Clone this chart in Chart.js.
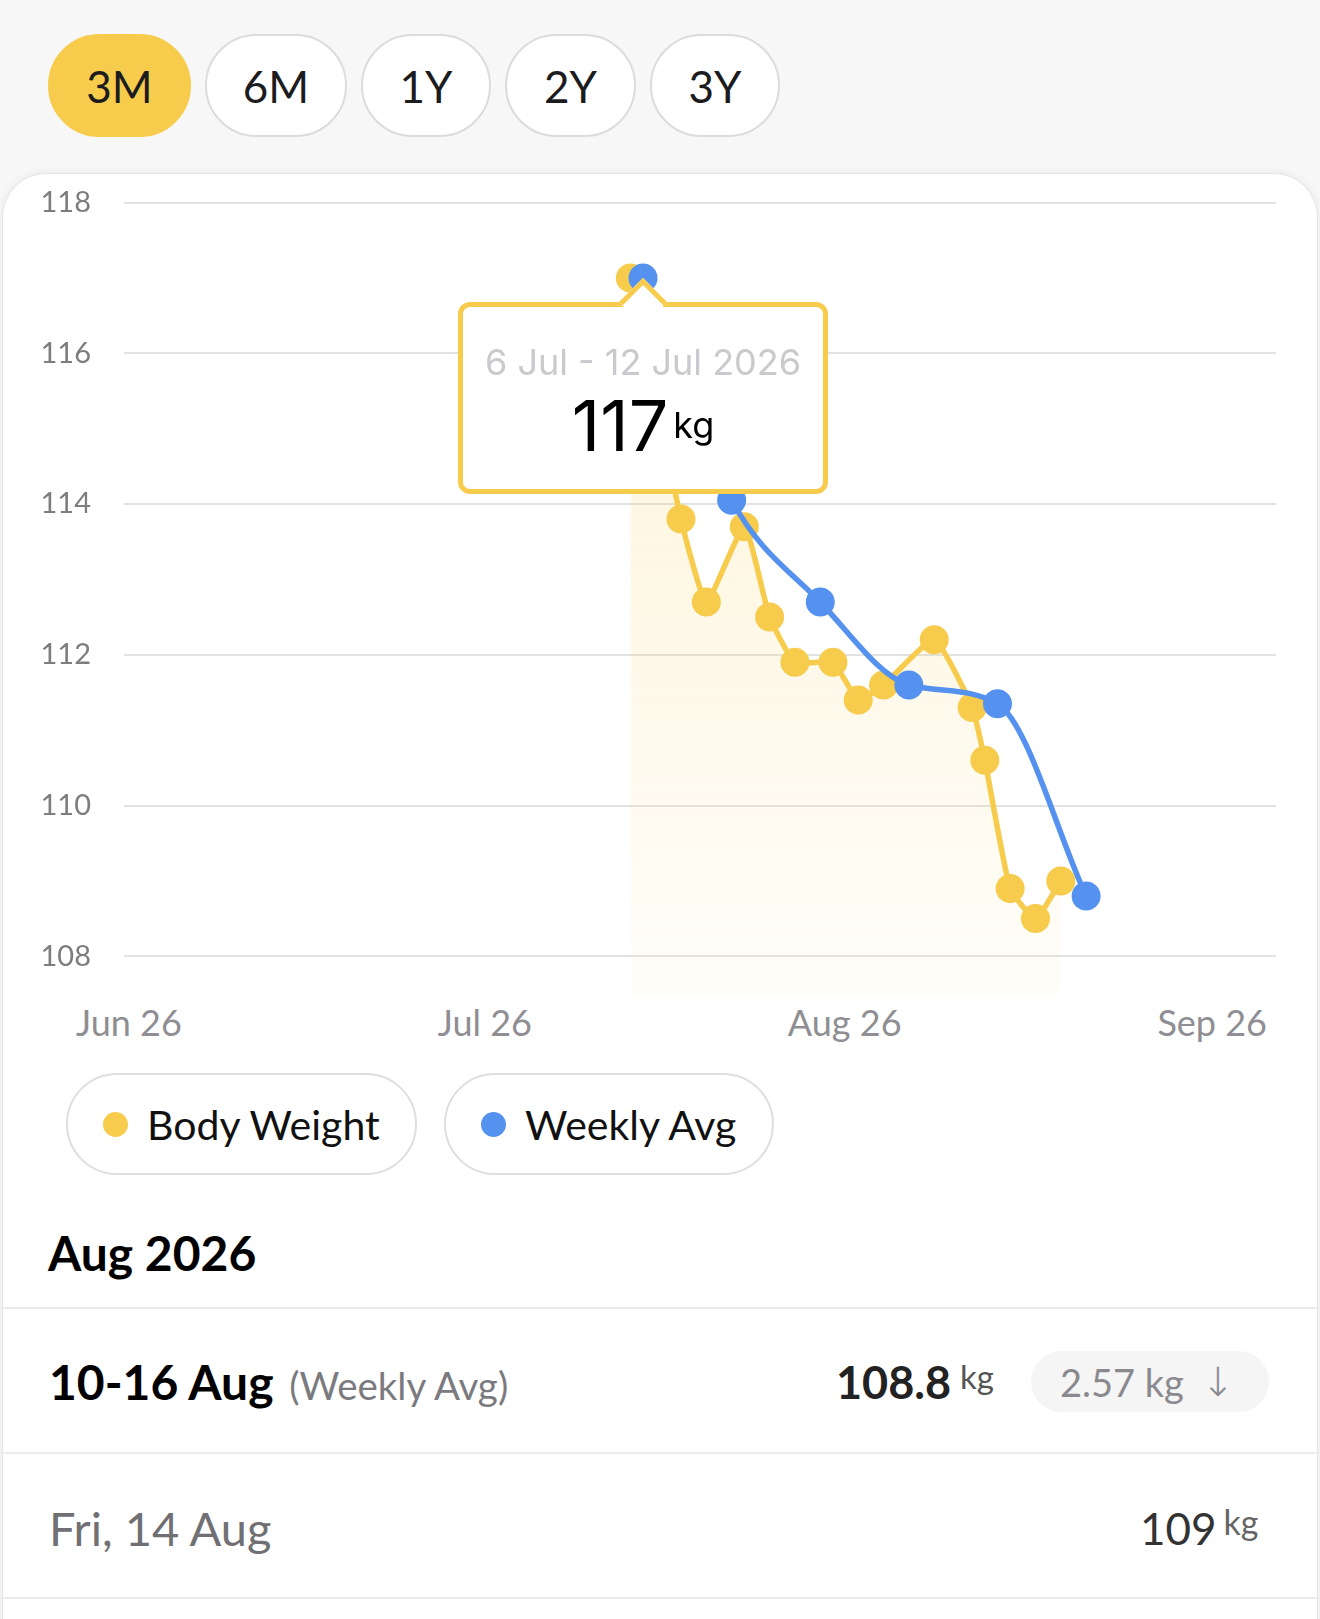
<!DOCTYPE html>
<html>
<head>
<meta charset="utf-8">
<title>Body Weight</title>
<script src="https://cdn.jsdelivr.net/npm/chart.js@4.4.1/dist/chart.umd.min.js"></script>
<style>
  * { box-sizing: border-box; }
  html, body { margin: 0; padding: 0; }
  body {
    width: 1320px; height: 1619px; overflow: hidden; position: relative;
    background: #f7f7f7; color: #1c1c1e;
    font-family: Lato, "Noto Sans", sans-serif;
  }
  .abs { position: absolute; white-space: nowrap; line-height: 1.2; }

  .ranges { position: absolute; left: 48px; top: 34px; display: flex; gap: 14px; }
  .ranges div {
    height: 103px; border-radius: 52px; border: 2.5px solid #dcdcdc; background: #fff;
    display: flex; align-items: center; justify-content: center; font-size: 44px;
  }
  .ranges div:nth-child(1) { width: 143px; background: #f7cc4c; border-color: #f7cc4c; }
  .ranges div:nth-child(2) { width: 142px; }
  .ranges div:nth-child(3) { width: 130px; }
  .ranges div:nth-child(4) { width: 131px; }
  .ranges div:nth-child(5) { width: 130px; }

  .card {
    position: absolute; left: 2px; top: 173px; width: 1316px; height: 1500px;
    background: #fff; border-radius: 44px 44px 0 0; border: 1.5px solid #e4e4e4;
    box-shadow: 0 -1px 8px rgba(0,0,0,0.05);
  }
  #chartWrap { position: absolute; left: 0; top: 175px; width: 1320px; height: 825px; }

  .xlabels {
    position: absolute; left: 76px; width: 1191px; top: 1000px; height: 44px;
    display: flex; justify-content: space-between; align-items: center;
    font-size: 36px; color: #8e8e93;
  }

  .legend { position: absolute; left: 66px; top: 1073px; display: flex; gap: 27px; }
  .legend .pill {
    height: 102px; border: 2.5px solid #dedede; border-radius: 51px; background: #fff;
    display: flex; align-items: center; padding-left: 35px; font-size: 41px; color: #111;
  }
  .legend .pill:nth-child(1) { width: 351px; }
  .legend .pill:nth-child(2) { width: 330px; }
  .legend .dot { width: 25px; height: 25px; border-radius: 50%; margin-right: 19px; flex: none; }

  .sep { position: absolute; left: 0; width: 1320px; height: 2px; background: #ececec; }
  .badge {
    position: absolute; left: 1031px; top: 1351px; width: 238px; height: 61px;
    border-radius: 31px; background: #f5f5f6; color: #8a8a8e; font-size: 38px;
    display: flex; align-items: center; padding-left: 29px; white-space: nowrap;
  }
  .badge .arrow { font-family: "DejaVu Sans", sans-serif; font-size: 40px; margin-left: 17px; font-weight: 200; }

  #tip { position: absolute; left: 0; top: 0; width: 0; height: 0; pointer-events: none; opacity: 0; }
  #tip .box {
    position: absolute; left: -185px; top: 24px; width: 370px; height: 192px;
    border: 5px solid #f7cb4c; border-radius: 12px; background: #fff;
    font-family: Inter, "Noto Sans", sans-serif; text-align: center;
  }
  #tip .caret {
    position: absolute; left: -17px; top: 7px; width: 34px; height: 34px;
    background: #fff; border-top: 5px solid #f7cb4c; border-left: 5px solid #f7cb4c;
    transform: rotate(45deg); z-index: 2;
  }
  #tip .range { position: absolute; left: 0; right: 0; top: 33px; line-height: 44px; font-size: 36px; color: #c9c9ce; }
  #tip .val { position: absolute; left: 0; right: 0; top: 84px; line-height: 1; font-size: 70px; color: #000; }
  #tip .val span { font-size: 36px; vertical-align: 13px; margin-left: 5px; }
</style>
</head>
<body>
<div class="ranges"><div>3M</div><div>6M</div><div>1Y</div><div>2Y</div><div>3Y</div></div>
<div class="card"></div>

<div id="chartWrap">
  <canvas id="weightChart"></canvas>
  <div id="tip"><div class="caret"></div><div class="box"><div class="range"></div><div class="val"></div></div></div>
</div>
<div class="xlabels" id="xlabels"></div>
<div class="legend" id="legend"></div>

<div class="abs" style="left:48px; top:1224px; font-size:48px; font-weight:700; color:#000;">Aug 2026</div>
<div class="sep" style="top:1307px;"></div>

<div class="abs" style="left:49px; top:1353px; font-size:48px; font-weight:700; color:#000;">10-16 Aug <span style="font-size:38.5px; font-weight:400; color:#7b7b7f; margin-left:4px;">(Weekly Avg)</span></div>
<div class="abs" style="left:836px; top:1355px; font-size:45px; font-weight:700; color:#222;">108.8<span style="font-size:33px; font-weight:400; color:#555; vertical-align:10px; margin-left:9px;">kg</span></div>
<div class="badge">2.57 kg<span class="arrow">↓</span></div>
<div class="sep" style="top:1452px;"></div>

<div class="abs" style="left:49px; top:1500px; font-size:47px; color:#707074;">Fri, 14 Aug</div>
<div class="abs" style="left:1140px; top:1502px; font-size:44px; color:#333;">109<span style="font-size:34px; color:#666; vertical-align:10px; margin-left:7px;">kg</span></div>
<div class="sep" style="top:1597px;"></div>

<script>
// axis range (3M view) and labels
const axisStart = '2026-06-01';
const axisEnd = '2026-08-31';
const monthLabels = ['Jun 26', 'Jul 26', 'Aug 26', 'Sep 26'];
const yTicks = [108, 110, 112, 114, 116, 118];

// daily weigh-ins
const bodyDates = ['2026-07-11', '2026-07-15', '2026-07-17', '2026-07-20', '2026-07-22',
  '2026-07-24', '2026-07-27', '2026-07-29', '2026-07-31', '2026-08-04', '2026-08-07',
  '2026-08-08', '2026-08-10', '2026-08-12', '2026-08-14'];
const bodyWeight = [117.0, 113.8, 112.7, 113.7, 112.5, 111.9, 111.9, 111.4, 111.6,
  112.2, 111.3, 110.6, 108.9, 108.5, 109.0];

// weekly averages, plotted at week end (Sunday)
const weekEnds = ['2026-07-12', '2026-07-19', '2026-07-26', '2026-08-02', '2026-08-09', '2026-08-16'];
const weeklyAvg = [117.0, 114.05, 112.7, 111.6, 111.35, 108.8];

const yellow = '#f7cb4c';
const blue = '#5591ee';
const MONTHS = ['Jan', 'Feb', 'Mar', 'Apr', 'May', 'Jun', 'Jul', 'Aug', 'Sep', 'Oct', 'Nov', 'Dec'];

function toUTC(s) {
  const p = s.split('-').map(Number);
  return Date.UTC(p[0], p[1] - 1, p[2]);
}
function dayNum(s) {
  return (toUTC(s) - toUTC(axisStart)) / 864e5;
}
function fmtDay(t) {
  const d = new Date(t);
  return d.getUTCDate() + ' ' + MONTHS[d.getUTCMonth()];
}

Chart.defaults.font.family = 'Lato, "Noto Sans", sans-serif';

function drawTip(context) {
  const tooltip = context.tooltip;
  const el = document.getElementById('tip');
  if (tooltip.opacity === 0 || !tooltip.dataPoints || !tooltip.dataPoints.length) {
    el.style.opacity = 0;
    return;
  }
  const i = tooltip.dataPoints[0].dataIndex;
  const end = toUTC(weekEnds[i]);
  const start = end - 6 * 864e5;
  el.querySelector('.range').textContent =
    fmtDay(start) + ' - ' + fmtDay(end) + ' ' + new Date(end).getUTCFullYear();
  el.querySelector('.val').innerHTML = String(+weeklyAvg[i].toFixed(1)) + '<span>kg</span>';
  el.style.left = tooltip.caretX + 'px';
  el.style.top = tooltip.caretY + 'px';
  el.style.opacity = 1;
}

const ctx = document.getElementById('weightChart').getContext('2d');

const weightChart = new Chart(ctx, {
  type: 'line',
  data: {
    datasets: [
      {
        label: 'Body Weight',
        data: bodyDates.map((d, i) => ({ x: dayNum(d), y: bodyWeight[i] })),
        borderColor: yellow,
        borderWidth: 5.5,
        pointBackgroundColor: yellow,
        pointBorderWidth: 0,
        pointRadius: 14.5,
        pointHoverRadius: 14.5,
        tension: 0.15,
        fill: 'start',
        backgroundColor: function (c) {
          const area = c.chart.chartArea;
          if (!area) return 'rgba(248,204,80,0.15)';
          const g = c.chart.ctx.createLinearGradient(0, area.top, 0, area.bottom);
          g.addColorStop(0, 'rgba(248,204,80,0.24)');
          g.addColorStop(1, 'rgba(248,204,80,0.04)');
          return g;
        },
        clip: false,
        order: 2
      },
      {
        label: 'Weekly Avg',
        data: weekEnds.map((d, i) => ({ x: dayNum(d), y: weeklyAvg[i] })),
        borderColor: blue,
        borderWidth: 5.5,
        pointBackgroundColor: blue,
        pointBorderWidth: 0,
        pointRadius: 14.5,
        pointHoverRadius: 14.5,
        cubicInterpolationMode: 'monotone',
        fill: false,
        clip: false,
        order: 1
      }
    ]
  },
  options: {
    responsive: true,
    maintainAspectRatio: false,
    animation: false,
    events: [],
    layout: { autoPadding: false, padding: { top: 27.5, right: 44, bottom: 6, left: 0 } },
    scales: {
      x: {
        type: 'linear',
        min: 0,
        max: dayNum(axisEnd),
        display: false
      },
      y: {
        min: 107.5,
        max: 118,
        afterBuildTicks: (scale) => { scale.ticks = yTicks.map(v => ({ value: v })); },
        afterFit: (scale) => {
          // fixed gutter for the labels; tick padding should not push the plot down
          scale.width = 124;
          scale.paddingTop = 0;
          scale.paddingBottom = 0;
        },
        border: { display: false },
        grid: { color: '#e2e2e2', lineWidth: 2, drawTicks: false },
        ticks: { padding: 33, color: '#7d7d80', font: { size: 29 } }
      }
    },
    plugins: {
      legend: { display: false },
      tooltip: { enabled: false, external: drawTip }
    }
  }
});

weightChart.tooltip.setActiveElements([{ datasetIndex: 1, index: 0 }], { x: 0, y: 0 });
weightChart.update();

// month labels under the plot
document.getElementById('xlabels').innerHTML = monthLabels.map(t => '<span>' + t + '</span>').join('');

// legend pills
document.getElementById('legend').innerHTML = weightChart.data.datasets.map(ds =>
  '<div class="pill"><span class="dot" style="background:' + ds.borderColor + '"></span>' + ds.label + '</div>'
).join('');
</script>
</body>
</html>
